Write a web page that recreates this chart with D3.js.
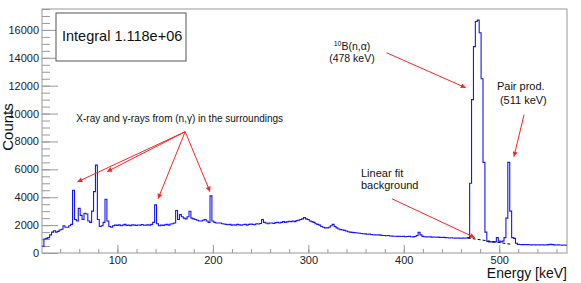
<!DOCTYPE html>
<meta charset="utf-8">
<style>
body {
  margin: 0;
  background: #fff;
}

svg {
  font-family: "Liberation Sans", Arial, Helvetica, sans-serif;
}

.frame {
  fill: none;
  stroke: #999;
  stroke-width: 1;
}

.axis line {
  stroke: #999;
  stroke-width: 1;
}

.axis text {
  fill: #222;
  font-size: 11px;
}

.spectrum {
  fill: none;
  stroke: #1414ff;
  stroke-width: 1.1;
}

.fit {
  fill: none;
  stroke: #000;
  stroke-width: 1;
  stroke-dasharray: 3,2;
}

.arrow {
  stroke: #f22;
  stroke-width: 1;
}

.note {
  fill: #111;
  font-size: 11px;
}
</style>
<body>
<script src="https://d3js.org/d3.v7.min.js"></script>
<script>

// gamma spectrum, 2 keV bins starting at 21 keV (bin centres 22 ... 570)
var binStart = 21,
    binWidth = 2;

var counts = [
  480, 1000, 1050, 1100, 1300, 1500, 1600, 1500, 1550, 1650,
  1700, 1950, 1850, 1850, 1950, 2050, 4500, 2400, 2300, 3200,
  2700, 2400, 2850, 2800, 2300, 2200, 3000, 4400, 6300, 2400,
  1900, 1950, 2200, 3850, 2300, 1900, 1850, 1950, 2000, 1980,
  2020, 1950, 2000, 2050, 1980, 2000, 1960, 2030, 2000, 1980,
  2010, 2000, 2040, 1990, 2000, 2020, 2000, 2050, 2200, 3450,
  2100, 1950, 2000, 1980, 2020, 2050, 2000, 2080, 2100, 2150,
  3050, 2400, 2750, 2600, 2500, 2450, 2600, 2990, 2500, 2450,
  2400, 2350, 2300, 2300, 2350, 2400, 2300, 2200, 4100, 2300,
  2200, 2150, 2150, 2150, 2100, 2080, 2050, 2030, 2050, 2000,
  2030, 2000, 2050, 2020, 2000, 2030, 2050, 2000, 2050, 2080,
  2050, 2030, 2100, 2080, 2120, 2400, 2200, 2150, 2100, 2150,
  2150, 2120, 2180, 2200, 2150, 2200, 2250, 2200, 2230, 2280,
  2250, 2300, 2250, 2320, 2350, 2400, 2450, 2550, 2450, 2400,
  2300, 2250, 2200, 2100, 2050, 2000, 1900, 1850, 1800, 1800,
  1850, 1950, 2050, 1900, 1800, 1720, 1680, 1650, 1620, 1580,
  1520, 1500, 1480, 1460, 1450, 1430, 1420, 1400, 1380, 1370,
  1350, 1360, 1330, 1310, 1300, 1290, 1300, 1280, 1260, 1250,
  1240, 1250, 1220, 1210, 1200, 1200, 1190, 1200, 1180, 1190,
  1170, 1180, 1190, 1170, 1160, 1180, 1250, 1480, 1300, 1190,
  1170, 1160, 1150, 1160, 1140, 1150, 1130, 1140, 1120, 1110,
  1120, 1100, 1090, 1080, 1090, 1080, 1070, 1080, 1070, 1060,
  1070, 1060, 1080, 1100, 5000, 11000, 14800, 16600, 16700, 15800,
  12500, 6500, 1500, 820, 800, 800, 780, 800, 1100, 850,
  800, 850, 1100, 2500, 6500, 3000, 1100, 1050, 700, 620,
  610, 600, 600, 590, 600, 590, 580, 590, 580, 590,
  580, 570, 580, 570, 580, 600, 620, 600, 580, 570,
  580, 570, 560, 570, 560
];

// linear background fit under the 478 keV line
var fitEnergy = [467, 512],
    fitCounts = [1080, 630];

var xTicks = [100, 200, 300, 400, 500],
    yTicks = [0, 2000, 4000, 6000, 8000, 10000, 12000, 14000, 16000];

var integralText = "1.118e+06";

// arrows: [energy, counts] of tail and head
var arrowTails = [[171, 8700], [171, 8700], [171, 8700], [171, 8700], [382, 14360], [526, 9920], [387.6, 3890]],
    arrowHeads = [[58, 5100], [89, 5830], [142.6, 3890], [197, 4400], [465, 11850], [515.4, 6900], [474.6, 1100]];

var width = 581,
    height = 283,
    margin = {top: 9, right: 14, bottom: 30, left: 42};

var x = d3.scaleLinear()
    .domain([21, 571])
    .range([margin.left, width - margin.right]);

var y = d3.scaleLinear()
    .domain([0, 17500])
    .range([height - margin.bottom, margin.top]);

var svg = d3.select("body").append("svg")
    .attr("width", width)
    .attr("height", height);

var defs = svg.append("defs");

defs.append("clipPath")
    .attr("id", "plot")
  .append("rect")
    .attr("x", margin.left)
    .attr("y", margin.top)
    .attr("width", x.range()[1] - x.range()[0])
    .attr("height", y.range()[0] - y.range()[1]);

defs.append("marker")
    .attr("id", "head")
    .attr("viewBox", "0 0 10 10")
    .attr("refX", 10)
    .attr("refY", 5)
    .attr("markerWidth", 6)
    .attr("markerHeight", 5)
    .attr("markerUnits", "userSpaceOnUse")
    .attr("orient", "auto")
  .append("path")
    .attr("d", "M0,0L10,5L0,10z")
    .attr("fill", "#f22");

// axes with ROOT style inward ticks
var yMinor = d3.range(0, 17501, 500);
var xMinor = d3.range(40, 571, 20);

svg.append("g")
    .attr("class", "axis")
    .attr("transform", "translate(" + margin.left + ",0)")
    .call(d3.axisLeft(y).tickValues(yMinor).tickSize(-8).tickFormat(""))
    .call(function(g) { g.select(".domain").remove(); });

svg.append("g")
    .attr("class", "axis")
    .attr("transform", "translate(" + margin.left + ",0)")
    .call(d3.axisLeft(y).tickValues(yTicks).tickSize(-16).tickPadding(3).tickFormat(d3.format("d")))
    .call(function(g) { g.select(".domain").remove(); });

svg.append("g")
    .attr("class", "axis")
    .attr("transform", "translate(0," + y.range()[0] + ")")
    .call(d3.axisBottom(x).tickValues(xMinor).tickSize(-4).tickFormat(""))
    .call(function(g) { g.select(".domain").remove(); });

svg.append("g")
    .attr("class", "axis")
    .attr("transform", "translate(0," + y.range()[0] + ")")
    .call(d3.axisBottom(x).tickValues(xTicks).tickSize(-8).tickPadding(3))
    .call(function(g) { g.select(".domain").remove(); });

svg.append("rect")
    .attr("class", "frame")
    .attr("x", margin.left)
    .attr("y", margin.top)
    .attr("width", x.range()[1] - x.range()[0])
    .attr("height", y.range()[0] - y.range()[1]);

// histogram as a step line over the bin edges
var edges = counts.map(function(c, i) { return [binStart + i * binWidth, c]; });
edges.push([binStart + counts.length * binWidth, counts[counts.length - 1]]);

var step = d3.line()
    .x(function(d) { return x(d[0]); })
    .y(function(d) { return y(d[1]); })
    .curve(d3.curveStepAfter);

svg.append("path")
    .datum(edges)
    .attr("class", "spectrum")
    .attr("clip-path", "url(#plot)")
    .attr("d", step);

svg.append("path")
    .datum(fitEnergy.map(function(e, i) { return [e, fitCounts[i]]; }))
    .attr("class", "fit")
    .attr("d", d3.line().x(function(d) { return x(d[0]); }).y(function(d) { return y(d[1]); }));

// axis titles
svg.append("text")
    .attr("transform", "translate(13,127) rotate(-90)")
    .attr("text-anchor", "middle")
    .style("font-size", "15px")
    .attr("fill", "#111")
    .text("Counts");

svg.append("text")
    .attr("x", x.range()[1])
    .attr("y", 278)
    .attr("text-anchor", "end")
    .style("font-size", "14px")
    .attr("fill", "#111")
    .text("Energy [keV]");

// integral box
var box = svg.append("g")
    .attr("transform", "translate(" + (margin.left + 14) + "," + (margin.top + 4) + ")");

box.append("rect")
    .attr("width", 130)
    .attr("height", 48)
    .attr("fill", "#fff")
    .attr("stroke", "#555");

box.append("text")
    .attr("x", 6)
    .attr("y", 28)
    .style("font-size", "14.5px")
    .attr("fill", "#111")
    .text("Integral " + integralText);

// annotations
svg.selectAll(".arrow")
    .data(arrowTails)
  .enter().append("line")
    .attr("class", "arrow")
    .attr("x1", function(d) { return x(d[0]); })
    .attr("y1", function(d) { return y(d[1]); })
    .attr("x2", function(d, i) { return x(arrowHeads[i][0]); })
    .attr("y2", function(d, i) { return y(arrowHeads[i][1]); })
    .attr("marker-end", "url(#head)");

svg.append("text")
    .attr("class", "note")
    .attr("x", x(57))
    .attr("y", y(9360))
    .style("font-size", "10px")
    .text("X-ray and \u03b3-rays from (n,\u03b3) in the surroundings");

var boron = svg.append("text")
    .attr("class", "note")
    .attr("x", x(345.7))
    .attr("y", y(14580))
    .attr("text-anchor", "middle")
    .style("font-size", "10.5px");
boron.append("tspan").style("font-size", "7px").attr("dy", -4).text("10");
boron.append("tspan").attr("dy", 4).text("B(n,\u03b1)");

svg.append("text")
    .attr("class", "note")
    .attr("x", x(345.7))
    .attr("y", y(13670))
    .attr("text-anchor", "middle")
    .style("font-size", "10.5px")
    .text("(478 keV)");

svg.append("text")
    .attr("class", "note")
    .attr("x", x(497.6))
    .attr("y", y(11660))
    .text("Pair prod.");

svg.append("text")
    .attr("class", "note")
    .attr("x", x(500.7))
    .attr("y", y(10700))
    .text("(511 keV)");

svg.append("text")
    .attr("class", "note")
    .attr("x", x(355.2))
    .attr("y", y(5470))
    .text("Linear fit");

svg.append("text")
    .attr("class", "note")
    .attr("x", x(355.2))
    .attr("y", y(4610))
    .text("background");

</script>
